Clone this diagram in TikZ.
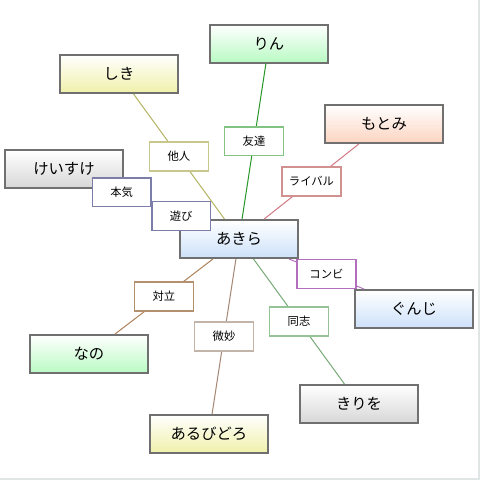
\documentclass[tikz,border=0pt]{standalone}
\usepackage{fontspec}
\setmainfont{Noto Sans CJK JP}
\usetikzlibrary{calc, positioning}

\definecolor{box-gray}{RGB}{112,112,112}
\definecolor{frame-gray}{RGB}{224,230,230}
\definecolor{fill-green}{RGB}{185,250,195}
\definecolor{fill-yellow}{RGB}{240,240,170}
\definecolor{fill-peach}{RGB}{252,212,192}
\definecolor{fill-gray}{RGB}{215,215,215}
\definecolor{fill-blue}{RGB}{205,225,250}
\definecolor{tag-olive}{RGB}{200,200,140}
\definecolor{line-olive}{RGB}{180,180,100}
\definecolor{tag-green}{RGB}{130,195,130}
\definecolor{line-green}{RGB}{40,150,40}
\definecolor{tag-pink}{RGB}{210,145,145}
\definecolor{line-pink}{RGB}{210,120,130}
\definecolor{tag-slate}{RGB}{125,125,170}
\definecolor{tag-purple}{RGB}{180,110,190}
\definecolor{tag-sage}{RGB}{150,195,150}
\definecolor{line-sage}{RGB}{120,170,120}
\definecolor{tag-brown}{RGB}{180,145,110}
\definecolor{line-brown}{RGB}{175,130,90}
\definecolor{tag-taupe}{RGB}{195,180,170}
\definecolor{line-taupe}{RGB}{165,135,115}

\tikzset{
  person-box/.style={draw=box-gray, line width=1.5pt, minimum width=88.5pt,
    minimum height=28.5pt, inner sep=0pt, top color=white, text=black,
    font=\fontsize{11.5}{12}\selectfont},
  relation-tag/.style={fill=white, line width=1.1pt, minimum width=44pt,
    minimum height=21.5pt, inner sep=0pt, text=black,
    font=\fontsize{8.5}{9}\selectfont},
  rel-line/.style={line width=0.75pt},
}

\begin{document}
\begin{tikzpicture}[x=0.75pt, y=-0.75pt]

  \useasboundingbox (0,0) rectangle (480,480);
  \fill[white] (0,0) rectangle (480,480);
  \draw[frame-gray, line width=1.2pt] (0,479) to (479,479) to (479,0);

  % people
  \node[person-box, bottom color=fill-blue]   (akira)     at (239, 239) {あきら};
  \node[person-box, bottom color=fill-green]  (rin)       at (269,  43.5) {りん};
  \node[person-box, bottom color=fill-yellow] (shiki)     at (119,  74) {しき};
  \node[person-box, bottom color=fill-peach]  (motomi)    at (384, 124) {もとみ};
  \node[person-box, bottom color=fill-gray]   (keisuke)   at ( 64, 169) {けいすけ};
  \node[person-box, bottom color=fill-blue]   (gunji)     at (414, 309) {ぐんじ};
  \node[person-box, bottom color=fill-green]  (nano)      at ( 89, 354) {なの};
  \node[person-box, bottom color=fill-gray]   (kiriwo)    at (359, 404) {きりを};
  \node[person-box, bottom color=fill-yellow] (arubidoro) at (209, 434) {あるびどろ};

  % relations
  \draw[rel-line, line-olive] (akira) to node[relation-tag, draw=tag-olive] (tanin) {他人} (shiki);
  \draw[rel-line, line-green] (akira) to node[relation-tag, draw=tag-green] (yuujin) {友達} (rin);
  \draw[rel-line, line-pink] (akira) to node[relation-tag, draw=tag-pink] (rival) {ライバル} (motomi);
  \draw[rel-line, tag-purple] (akira) to node[relation-tag, draw=tag-purple] (konbi) {コンビ} (gunji);
  \draw[rel-line, line-sage] (akira) to node[relation-tag, draw=tag-sage] (doushi) {同志} (kiriwo);
  \draw[rel-line, line-brown] (akira) to node[relation-tag, draw=tag-brown] (tairitsu) {対立} (nano);
  \draw[rel-line, line-taupe] (akira) to node[relation-tag, draw=tag-taupe] (bimyou) {微妙} (arubidoro);

  % two tags on one line
  \draw[rel-line, tag-slate] (keisuke) to (akira);
  \node[relation-tag, draw=tag-slate] (honki) at ($(keisuke)!0.33!(akira)$) {本気};
  \node[relation-tag, draw=tag-slate] (asobi) at ($(keisuke)!0.67!(akira)$) {遊び};

\end{tikzpicture}
\end{document}
